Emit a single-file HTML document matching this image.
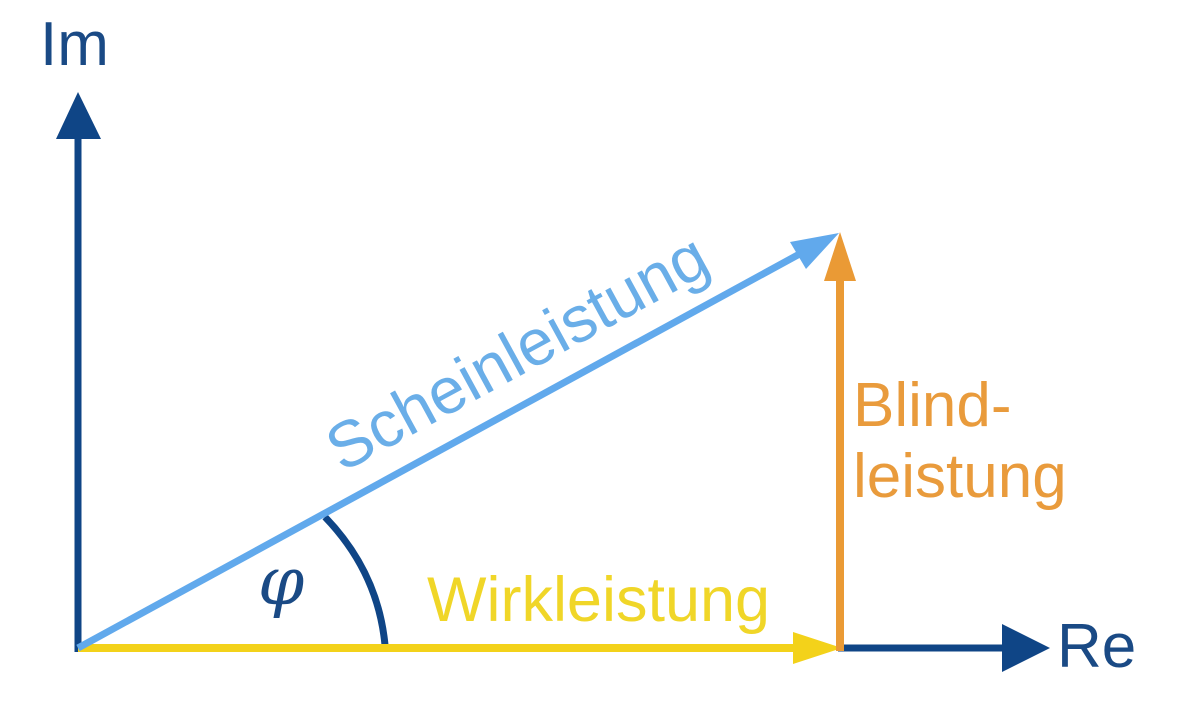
<!DOCTYPE html>
<html><head><style>
html,body{margin:0;padding:0;background:#fff;}
svg{display:block;}
text{font-family:"Liberation Sans",sans-serif;}
</style></head><body>
<svg width="1179" height="708" viewBox="0 0 1179 708" xmlns="http://www.w3.org/2000/svg">
<line x1="78" y1="652" x2="78" y2="130" stroke="#0f4586" stroke-width="7"/>
<polygon points="78,92 56,139 101,139" fill="#0f4586"/>
<line x1="838" y1="648" x2="1010" y2="648" stroke="#0f4586" stroke-width="7"/>
<polygon points="1050,648 1002,624 1002,672" fill="#0f4586"/>
<path d="M325,517 Q378,572 385,645" fill="none" stroke="#0f4586" stroke-width="7"/>
<line x1="78" y1="648" x2="800" y2="648" stroke="#f3d21a" stroke-width="8"/>
<polygon points="842,648 793,632 793,664" fill="#f3d21a"/>
<line x1="840" y1="651" x2="840" y2="275" stroke="#ea9a35" stroke-width="8"/>
<polygon points="840,232 824,281 856,281" fill="#ea9a35"/>
<line x1="78" y1="648" x2="805" y2="251" stroke="#61a9ec" stroke-width="7"/>
<polygon points="839,233 790,242 806,269" fill="#61a9ec"/>
<text x="40" y="65" font-size="62" fill="#1a4a85">Im</text>
<text x="1057" y="667" font-size="62" fill="#1a4a85">Re</text>
<text x="427" y="621" font-size="63" fill="#f0d628">Wirkleistung</text>
<text x="853" y="426" font-size="62" fill="#e99b3c">Blind-</text>
<text x="853" y="497" font-size="62" fill="#e99b3c">leistung</text>
<text x="0" y="0" font-size="65" fill="#6aaee8" transform="translate(342,473) rotate(-28.6)">Scheinleistung</text>
<text x="258" y="604" font-size="66" font-style="italic" fill="#1a4a85" style="font-family:'DejaVu Serif','Liberation Serif',serif">φ</text>
</svg>
</body></html>
